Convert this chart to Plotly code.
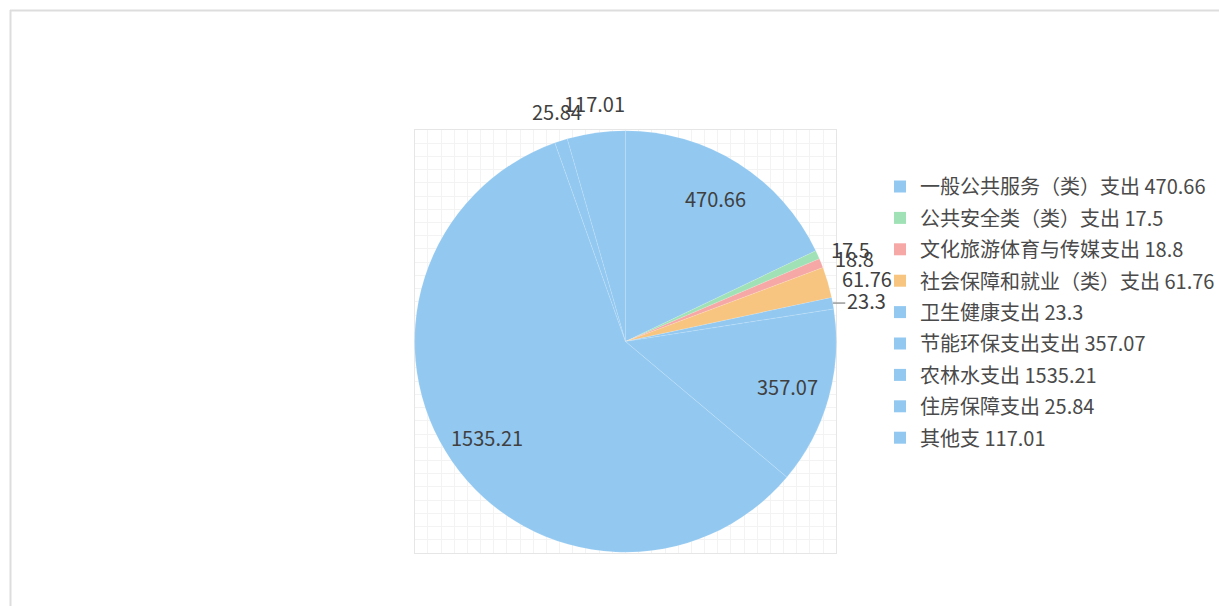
import math
import plotly.graph_objects as go

categories = ["一般公共服务（类）支出", "公共安全类（类）支出", "文化旅游体育与传媒支出",
              "社会保障和就业（类）支出", "卫生健康支出", "节能环保支出支出",
              "农林水支出", "住房保障支出", "其他支"]
values = [470.66, 17.5, 18.8, 61.76, 23.3, 357.07, 1535.21, 25.84, 117.01]
value_labels = ["470.66", "17.5", "18.8", "61.76", "23.3", "357.07", "1535.21", "25.84", "117.01"]
colors = ["#93C9F1", "#A0E2B6", "#F6A8A6", "#F7C580", "#93C9F1", "#93C9F1",
          "#93C9F1", "#93C9F1", "#93C9F1"]
label_inside = [True, False, False, False, False, True, True, False, False]
label_line = [False, False, False, False, True, False, False, False, False]

W, H = 1220, 606
x0, x1 = 415 / W, 837 / W
y0, y1 = 1 - 553 / H, 1 - 130 / H
FONT = "Noto Sans CJK SC, Noto Sans, sans-serif"
TXT = "#404040"

fig = go.Figure()

fig.add_trace(go.Pie(
    labels=categories, values=values, sort=False, direction="clockwise",
    rotation=0,
    marker=dict(colors=colors, line=dict(color="rgba(255,255,255,0.2)", width=0.6)),
    textinfo="none", domain=dict(x=[x0, x1], y=[y0, y1]), showlegend=False,
    hoverinfo="label+value",
))

for i, (c, v) in enumerate(zip(categories, value_labels)):
    fig.add_trace(go.Scatter(
        x=[None], y=[None], mode="markers", name=f"{c} {v}",
        marker=dict(symbol="square", size=12, color=colors[i]),
        legendgroup=f"g{i}", showlegend=True,
    ))

# data labels placed relative to the plot domain (pie centre 0.5,0.5, radius 0.5)
def dom(u):
    return 0.5 + 0.5 * u

total = sum(values)
annotations = []
shapes = []
cum = 0.0
OUT = 1.06
for v, lab, inside, line in zip(values, value_labels, label_inside, label_line):
    mid = 2 * math.pi * (cum + v / 2) / total
    cum += v
    s, c = math.sin(mid), math.cos(mid)
    if inside:
        annotations.append(dict(x=dom(0.8 * s), y=dom(0.8 * c), xref="x domain", yref="y domain",
                                text=lab, showarrow=False, xanchor="center", yanchor="middle",
                                font=dict(size=20, color=TXT, family=FONT)))
    else:
        xa = "left" if s > 0.7 else ("right" if s < -0.7 else "center")
        ya = "bottom" if c > 0.7 else ("top" if c < -0.7 else "middle")
        annotations.append(dict(x=dom(OUT * s), y=dom(OUT * c), xref="x domain", yref="y domain",
                                text=lab, showarrow=False, xanchor=xa, yanchor=ya,
                                font=dict(size=20, color=TXT, family=FONT)))
        if line:
            shapes.append(dict(type="line", xref="x domain", yref="y domain",
                               x0=dom(s), y0=dom(c), x1=dom(OUT * s), y1=dom(c),
                               line=dict(color="#999999", width=1.5)))

shapes += [
    dict(type="line", xref="paper", yref="paper", x0=10.5 / W, x1=10.5 / W,
         y0=0, y1=1 - 10 / H, line=dict(color="#DDDDDD", width=2)),
    dict(type="line", xref="paper", yref="paper", x0=10 / W, x1=1,
         y0=1 - 10.5 / H, y1=1 - 10.5 / H, line=dict(color="#DDDDDD", width=2)),
]

axis = dict(range=[-1, 1], dtick=0.0625, tick0=-1, showgrid=True,
            gridcolor="#F3F3F3", gridwidth=1, zeroline=False, showticklabels=False,
            showline=True, mirror=True, linecolor="#E6E6E6", ticks="", fixedrange=True)

fig.update_layout(
    width=W, height=H, margin=dict(l=0, r=0, t=0, b=0),
    paper_bgcolor="white", plot_bgcolor="white",
    xaxis=dict(domain=[x0, x1], **axis),
    yaxis=dict(domain=[y0, y1], **axis),
    legend=dict(x=881 / W, xanchor="left", y=1 - 167 / H, yanchor="top",
                font=dict(size=20, color="#4A4A4A", family=FONT),
                tracegroupgap=2.4, bgcolor="rgba(0,0,0,0)", itemclick=False),
    annotations=annotations,
    shapes=shapes,
)

fig.write_html("out.html", config=dict(displayModeBar=False),
               post_script="document.body.style.margin='0';document.body.style.overflow='hidden';")
